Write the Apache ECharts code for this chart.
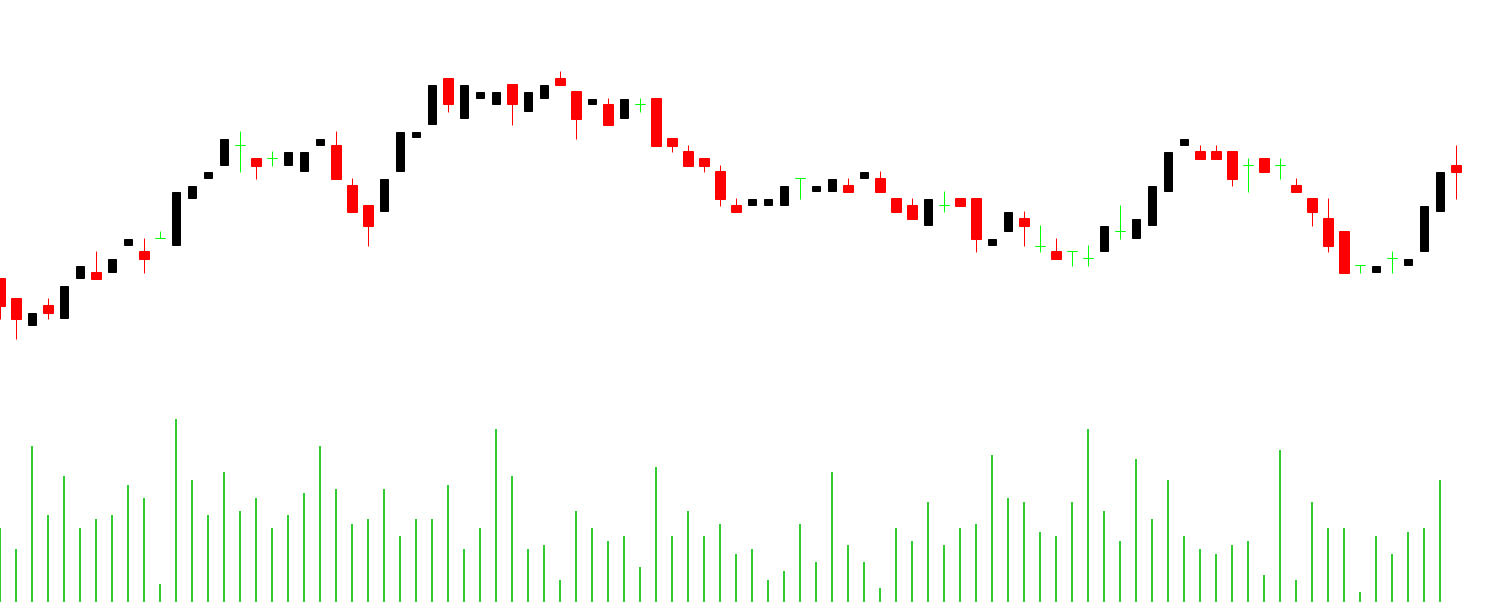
<!DOCTYPE html>
<html><head><meta charset="utf-8">
<script src="https://cdn.jsdelivr.net/npm/echarts@6/dist/echarts.min.js"></script>
<style>html,body{margin:0;padding:0;background:#fff}#c{width:1507px;height:616px}</style>
</head><body><div id="c"></div>
<script>
const categories = ['1','2','3','4','5','6','7','8','9','10','11','12','13','14','15','16','17','18','19','20',
'21','22','23','24','25','26','27','28','29','30','31','32','33','34','35','36','37','38','39','40',
'41','42','43','44','45','46','47','48','49','50','51','52','53','54','55','56','57','58','59','60',
'61','62','63','64','65','66','67','68','69','70','71','72','73','74','75','76','77','78','79','80',
'81','82','83','84','85','86','87','88','89','90','91','92'];

const openV = [122,102,75,95,82,122,128,128,155,149,162,155,202,222,235,255,242,242,235,229,
255,255,215,195,189,229,263,276,322,282,302,296,316,289,302,322,309,296,296,282,
296,302,262,249,242,229,195,195,195,195,222,209,209,215,222,222,202,195,175,195,
202,202,155,169,182,154,149,149,142,149,169,162,175,209,255,249,249,249,235,242,
235,215,202,182,169,135,128,142,135,149,189,235];
const closeV = [94,81,87,87,114,134,121,141,161,141,162,208,214,228,261,255,234,242,248,248,
261,221,188,174,221,268,268,315,296,315,308,308,296,308,315,315,281,301,275,301,
296,254,254,234,234,201,188,201,201,214,222,214,221,208,228,208,188,181,201,195,
194,161,161,188,174,154,141,149,142,174,169,181,214,248,261,241,241,221,235,228,
235,208,188,154,127,135,134,142,141,194,228,228];
const lowV = [81,61,75,81,82,122,121,128,155,127,162,155,202,222,235,228,221,234,235,229,
255,221,188,154,189,229,263,276,288,282,302,296,275,289,302,315,261,296,275,282,
288,254,248,234,228,194,188,195,195,195,201,209,209,208,222,208,188,181,175,188,
194,148,155,169,154,148,141,134,134,149,161,162,175,209,255,241,241,214,208,228,
221,208,174,148,127,127,128,127,135,149,189,201];
const highV = [122,102,87,102,114,134,149,141,161,162,169,208,214,228,261,269,242,249,248,248,
261,269,222,195,221,268,268,315,322,315,308,308,316,308,315,329,309,301,302,301,
302,302,262,255,242,235,202,201,201,214,222,214,221,222,228,229,202,202,201,209,
202,202,161,188,189,175,162,149,155,174,195,181,214,248,261,255,255,249,242,242,
242,222,202,202,169,135,134,149,141,194,228,255];
const volume = [74,53,156,87,126,74,83,87,117,104,18,183,122,87,130,91,104,74,87,109,
156,113,78,83,113,66,83,83,117,53,74,173,126,53,57,22,91,74,61,66,
35,135,66,91,66,78,48,53,22,31,78,40,130,57,40,14,74,61,100,57,
74,78,147,104,100,70,66,100,173,91,61,143,83,122,66,53,48,57,61,27,
152,22,100,74,74,10,66,48,70,74,122];

function pick(test) {
  return openV.map((o, i) => test(o, closeV[i]) ? [o, closeV[i], lowV[i], highV[i]] : '-');
}
const upData = pick((o, c) => c > o);
const downData = pick((o, c) => c < o);
const dojiData = pick((o, c) => c === o);

const chart = echarts.init(document.getElementById('c'), null, {renderer: 'canvas'});
chart.setOption({
  animation: false,
  backgroundColor: '#ffffff',
  grid: [
    {left: 0.5, right: 50.5, top: 0.5, height: 400},
    {left: 0, right: 51, top: 402, height: 200}
  ],
  xAxis: [
    {type: 'category', data: categories, boundaryGap: false, show: false, gridIndex: 0},
    {type: 'category', data: categories, boundaryGap: false, show: false, gridIndex: 1}
  ],
  yAxis: [
    {type: 'value', min: 0, max: 400, show: false, splitLine: {show: false}, gridIndex: 0},
    {type: 'value', min: 0, max: 200, show: false, splitLine: {show: false}, gridIndex: 1}
  ],
  series: [
    {
      type: 'candlestick', data: upData, barWidth: 8,
      itemStyle: {color: '#000000', color0: '#000000', borderColor: '#000000', borderColor0: '#000000', borderColorDoji: '#000000', borderWidth: 1}
    },
    {
      type: 'candlestick', data: downData, barWidth: 10,
      itemStyle: {color: '#ff0000', color0: '#ff0000', borderColor: '#ff0000', borderColor0: '#ff0000', borderColorDoji: '#ff0000', borderWidth: 1}
    },
    {
      type: 'candlestick', data: dojiData, barWidth: 10,
      itemStyle: {color: '#00ff00', color0: '#00ff00', borderColor: '#00ff00', borderColor0: '#00ff00', borderColorDoji: '#00ff00', borderWidth: 1}
    },
    {
      type: 'bar', data: volume, xAxisIndex: 1, yAxisIndex: 1, barWidth: 2,
      itemStyle: {color: '#32cd32'}
    }
  ]
});
</script>
</body></html>
